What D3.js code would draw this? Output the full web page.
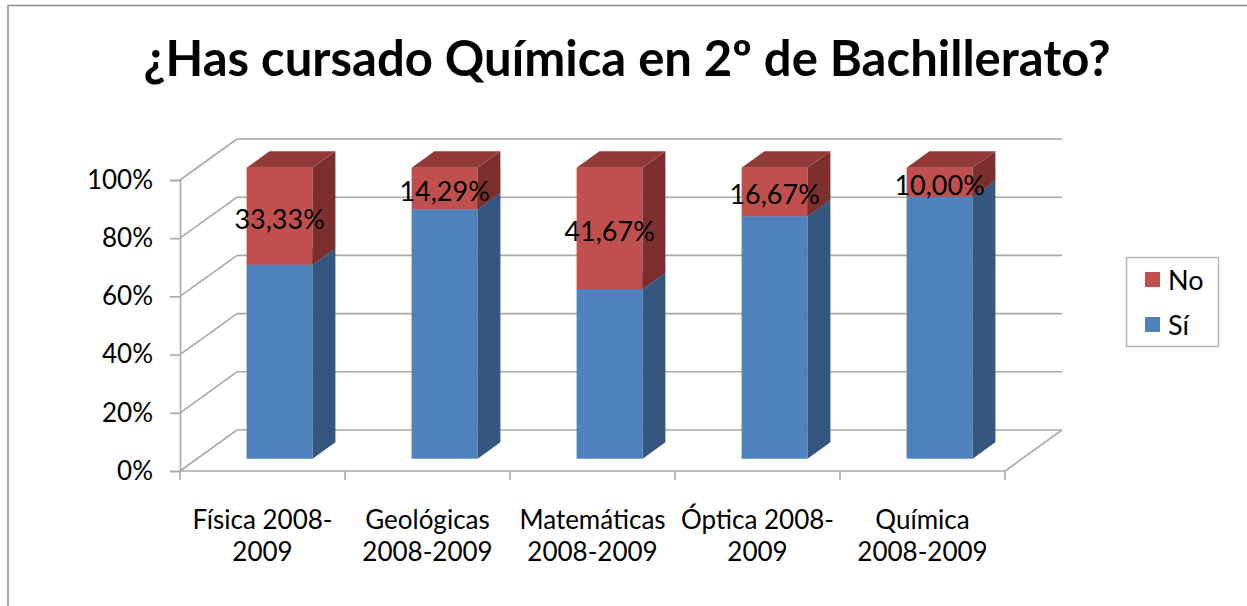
<!DOCTYPE html>
<html>
<head>
	<meta charset="utf-8">
	<script src="https://d3js.org/d3.v7.min.js"></script>
	<title>¿Has cursado Química en 2º de Bachillerato?</title>
	<style>
		html, body { margin: 0; padding: 0; background: #fff; }
		svg { display: block; font-family: Lato, "Open Sans", sans-serif; }
		.grid { stroke: #a9a9a9; stroke-width: 1.6px; fill: none; }
	</style>
</head>
<body>
	<svg width="1247" height="606"></svg>

	<script>
		// chart data
		const categories = ["Física 2008-2009", "Geológicas 2008-2009", "Matemáticas 2008-2009", "Óptica 2008-2009", "Química 2008-2009"];
		const categoryLines = [["Física 2008-", "2009"], ["Geológicas", "2008-2009"], ["Matemáticas", "2008-2009"], ["Óptica 2008-", "2009"], ["Química", "2008-2009"]];
		const siValues = [66.67, 85.71, 58.33, 83.33, 90.00];
		const noValues = [33.33, 14.29, 41.67, 16.67, 10.00];
		const yTicks = [0, 20, 40, 60, 80, 100];
		const seriesNames = ["Sí", "No"];

		const svg = d3.select("svg");

		// plot frame (front plane) and depth of the 3d box
		const plotLeft = 180, plotRight = 1005, plotBottom = 471, plotTop = 180;
		const depthX = 57, depthY = -41;
		const barFrom = 0.3, barTo = 0.7;	// bars sit in the middle of the depth

		const x = d3.scaleBand().domain(categories).range([plotLeft, plotRight]);
		const y = d3.scaleLinear().domain([0, 100]).range([plotBottom, plotTop]);

		const colors = {
			"Sí": { front: "#4f81bd", side: "#34567f", top: "#3f6797" },
			"No": { front: "#c0504d", side: "#7c2f2d", top: "#923a38" }
		};

		// outer chart border
		svg.append("path")
			.attr("d", "M8,606 L8,5.5 L1247,5.5")
			.attr("fill", "none")
			.attr("stroke", "#8f8f8f")
			.attr("stroke-width", 1.5);

		// title
		const title = svg.append("text")
			.attr("x", 627)
			.attr("y", 76)
			.attr("text-anchor", "middle")
			.attr("font-weight", "bold")
			.attr("font-size", 40)
			.attr("fill", "#000")
			.text("¿Has cursado Química en 2º de Bachillerato?");
		const tw = title.node().getComputedTextLength();
		title.attr("font-size", 40 * 967 / tw);

		// back wall gridlines + side wall lines
		const walls = svg.append("g");
		yTicks.forEach(function (t) {
			walls.append("line").attr("class", "grid")
				.attr("x1", plotLeft + depthX).attr("x2", plotRight + depthX)
				.attr("y1", y(t) + depthY).attr("y2", y(t) + depthY);
			walls.append("line").attr("class", "grid")
				.attr("x1", plotLeft).attr("x2", plotLeft + depthX)
				.attr("y1", y(t)).attr("y2", y(t) + depthY);
		});
		// floor right edge
		walls.append("line").attr("class", "grid")
			.attr("x1", plotRight).attr("x2", plotRight + depthX)
			.attr("y1", y(0)).attr("y2", y(0) + depthY);

		// y axis on the front plane
		const yAxis = svg.append("g")
			.attr("transform", "translate(" + plotLeft + ",0)")
			.call(d3.axisLeft(y).tickValues(yTicks).tickSize(10).tickPadding(17).tickFormat(d => d + "%"));
		yAxis.select(".domain").attr("stroke", "#a9a9a9").attr("stroke-width", 1.6);
		yAxis.selectAll(".tick line").attr("stroke", "#a9a9a9").attr("stroke-width", 1.6);
		yAxis.selectAll("text").attr("font-size", 26).attr("fill", "#000")
			.attr("font-family", "Lato, sans-serif");

		// x axis: boundary ticks
		const xAxis = svg.append("g");
		xAxis.append("line").attr("class", "grid")
			.attr("x1", plotLeft).attr("x2", plotRight)
			.attr("y1", y(0)).attr("y2", y(0));
		xAxis.selectAll(".xtick")
			.data(categories.concat(["end"]))
			.enter()
			.append("line")
			.attr("class", "grid")
			.attr("x1", (d, i) => i < categories.length ? x(d) : plotRight)
			.attr("x2", (d, i) => i < categories.length ? x(d) : plotRight)
			.attr("y1", y(0))
			.attr("y2", y(0) + 9);

		// category labels (two lines)
		xAxis.selectAll(".xlabel")
			.data(categories)
			.enter()
			.append("text")
			.attr("text-anchor", "middle")
			.attr("font-size", 26)
			.attr("fill", "#000")
			.each(function (d, i) {
				const cx = x(d) + x.bandwidth() / 2;
				d3.select(this).selectAll("tspan")
					.data(categoryLines[i])
					.enter()
					.append("tspan")
					.attr("x", cx)
					.attr("y", (l, j) => 529 + j * 32)
					.text(l => l);
			});

		// stacked 3d bars
		const barW = x.bandwidth() * 0.4;
		const bdx = depthX * (barTo - barFrom), bdy = depthY * (barTo - barFrom);
		const stackData = categories.map(function (c, i) {
			return [
				{ cat: c, name: "Sí", v0: 0, v1: siValues[i] },
				{ cat: c, name: "No", v0: siValues[i], v1: siValues[i] + noValues[i], label: noValues[i] }
			];
		});

		const bars = svg.append("g");
		stackData.forEach(function (segs) {
			segs.forEach(function (s) {
				const x0 = x(s.cat) + x.bandwidth() / 2 - barW / 2 + depthX * barFrom;
				const x1 = x0 + barW;
				const yb = y(s.v0) + depthY * barFrom;
				const yt = y(s.v1) + depthY * barFrom;
				const c = colors[s.name];
				bars.append("rect")
					.attr("x", x0).attr("y", yt)
					.attr("width", barW).attr("height", yb - yt)
					.attr("fill", c.front);
				bars.append("path")
					.attr("d", "M" + x1 + "," + yt + " L" + (x1 + bdx) + "," + (yt + bdy) +
						" L" + (x1 + bdx) + "," + (yb + bdy) + " L" + x1 + "," + yb + "Z")
					.attr("fill", c.side);
				bars.append("path")
					.attr("d", "M" + x0 + "," + yt + " L" + x1 + "," + yt +
						" L" + (x1 + bdx) + "," + (yt + bdy) + " L" + (x0 + bdx) + "," + (yt + bdy) + "Z")
					.attr("fill", c.top);
			});
		});

		// data labels for the "No" series
		stackData.forEach(function (segs) {
			const s = segs[1];
			const cx = x(s.cat) + x.bandwidth() / 2 + depthX * barFrom;
			const cy = (y(s.v0) + y(s.v1)) / 2 + depthY * barFrom;
			svg.append("text")
				.attr("x", cx)
				.attr("y", cy + 2)
				.attr("text-anchor", "middle")
				.attr("dominant-baseline", "central")
				.attr("font-size", 27)
				.attr("fill", "#000")
				.text(s.label.toFixed(2).replace(".", ",") + "%");
		});

		// legend
		const legend = svg.append("g");
		legend.append("rect")
			.attr("x", 1126.5).attr("y", 257.5)
			.attr("width", 92).attr("height", 89)
			.attr("fill", "#fff")
			.attr("stroke", "#b5b5b5")
			.attr("stroke-width", 1.5);
		const legendItems = seriesNames.slice().reverse();
		legendItems.forEach(function (name, i) {
			const ly = 279 + i * 45;
			legend.append("rect")
				.attr("x", 1145).attr("y", ly - 7)
				.attr("width", 15).attr("height", 15)
				.attr("fill", colors[name].front);
			legend.append("text")
				.attr("x", 1168).attr("y", ly)
				.attr("dominant-baseline", "central")
				.attr("font-size", 27)
				.attr("fill", "#000")
				.text(name);
		});
	</script>
</body>
</html>
